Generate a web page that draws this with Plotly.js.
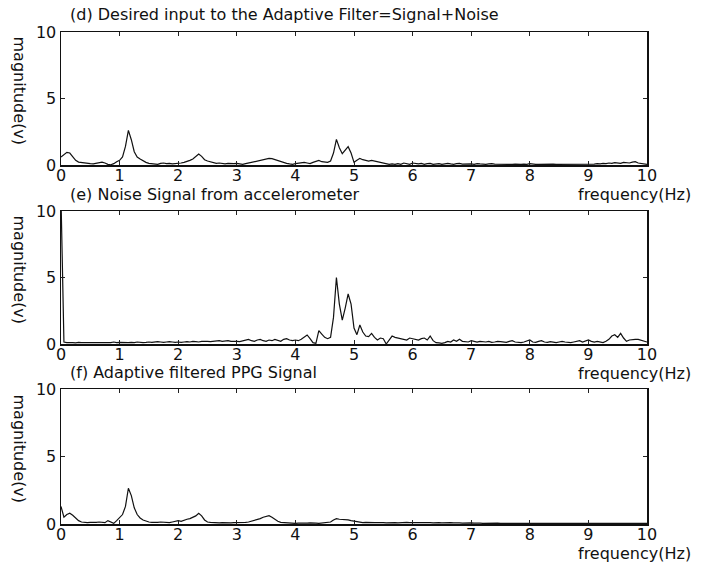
<!DOCTYPE html>
<html>
<head>
<meta charset="utf-8">
<script src="https://cdn.plot.ly/plotly-3.0.1.min.js"></script>
<style>html,body{margin:0;padding:0;background:#fff;}#chart{width:707px;height:564px;}</style>
</head>
<body>
<div id="chart"></div>
<script>
// Frequency axis: 0 to 10 Hz sampled every 0.05 Hz
const freqStart = 0;
const freqStep = 0.05;

const panelTitles = [
  "(d) Desired input to the Adaptive Filter=Signal+Noise",
  "(e) Noise Signal from accelerometer",
  "(f) Adaptive filtered PPG Signal"
];
const xTickVals = [0,1,2,3,4,5,6,7,8,9,10];
const yTickVals = [0,5,10];
const xLabel = "frequency(Hz)";
const yLabel = "magnitude(v)";

// (d) Desired input = Signal + Noise
const desiredInput = [
  0.6,0.8,0.95,0.9,0.6,0.35,0.22,0.18,0.15,0.12,0.1,0.08,0.12,0.2,0.22,0.15,0.05,0.02,0.1,0.25,
  0.35,0.6,1.4,2.6,1.9,1.0,0.6,0.45,0.3,0.2,0.12,0.08,0.05,0.05,0.12,0.15,0.1,0.12,0.08,0.1,
  0.1,0.15,0.2,0.25,0.35,0.45,0.65,0.83,0.65,0.4,0.3,0.25,0.15,0.12,0.15,0.1,0.08,0.12,0.1,0.1,
  0.12,0.08,0.05,0.1,0.15,0.18,0.2,0.25,0.32,0.4,0.45,0.5,0.48,0.4,0.3,0.22,0.2,0.12,0.08,0.05,
  0.1,0.15,0.2,0.2,0.15,0.1,0.2,0.3,0.35,0.25,0.2,0.2,0.3,0.9,1.93,1.3,0.85,1.1,1.38,0.9,
  0.2,0.35,0.5,0.4,0.35,0.3,0.35,0.3,0.25,0.2,0.12,0.1,0.05,0.08,0.05,0.1,0.05,0.15,0.1,0.05,
  0.15,0.1,0.08,0.12,0.05,0.1,0.12,0.05,0.08,0.1,0.05,0.1,0.12,0.08,0.05,0.1,0.12,0.06,0.08,0.1,
  0.08,0.05,0.1,0.08,0.06,0.05,0.08,0.1,0.06,0.05,0.05,0.08,0.06,0.05,0.04,0.06,0.08,0.05,0.06,0.05,
  0.1,0.06,0.05,0.05,0.06,0.05,0.04,0.05,0.06,0.05,0.05,0.04,0.05,0.06,0.05,0.05,0.04,0.05,0.06,0.05,
  0.08,0.05,0.06,0.1,0.08,0.12,0.1,0.15,0.12,0.18,0.15,0.12,0.2,0.18,0.15,0.22,0.25,0.15,0.1,0.08,
  0.05
];

// (e) Noise signal from accelerometer
const noiseSignal = [
  11,0.15,0.1,0.12,0.1,0.08,0.12,0.1,0.1,0.12,0.08,0.1,0.12,0.1,0.08,0.1,0.12,0.1,0.15,0.1,
  0.12,0.1,0.08,0.1,0.12,0.1,0.15,0.12,0.1,0.12,0.15,0.12,0.15,0.18,0.15,0.12,0.15,0.18,0.15,0.12,
  0.15,0.12,0.15,0.18,0.15,0.2,0.18,0.15,0.2,0.22,0.2,0.18,0.2,0.22,0.25,0.2,0.22,0.25,0.2,0.22,
  0.2,0.18,0.25,0.3,0.35,0.25,0.2,0.3,0.35,0.25,0.2,0.3,0.25,0.35,0.3,0.2,0.35,0.4,0.3,0.25,
  0.3,0.25,0.35,0.5,0.68,0.4,0.1,0.05,1.0,0.75,0.5,0.4,0.5,2.0,5.0,3.0,1.8,2.7,3.76,3.0,
  1.2,0.7,1.43,0.9,0.6,0.55,0.8,0.5,0.3,0.45,0.4,0.0,0.3,0.6,0.5,0.45,0.4,0.35,0.3,0.45,
  0.4,0.35,0.3,0.4,0.45,0.3,0.6,0.25,0.1,0.08,0.05,0.1,0.2,0.15,0.3,0.2,0.35,0.2,0.2,0.15,
  0.25,0.2,0.15,0.2,0.18,0.15,0.2,0.12,0.15,0.2,0.18,0.15,0.12,0.2,0.25,0.15,0.12,0.1,0.15,0.2,
  0.3,0.15,0.12,0.2,0.25,0.15,0.12,0.18,0.15,0.1,0.15,0.2,0.15,0.12,0.1,0.15,0.2,0.25,0.15,0.2,
  0.3,0.2,0.15,0.2,0.12,0.1,0.2,0.35,0.6,0.7,0.5,0.8,0.45,0.2,0.3,0.35,0.35,0.35,0.3,0.2,
  0.15
];

// (f) Adaptive filtered PPG signal
const filteredPPG = [
  1.3,0.5,0.7,0.8,0.65,0.45,0.25,0.15,0.12,0.1,0.12,0.1,0.12,0.15,0.12,0.1,0.25,0.15,0.05,0.25,
  0.45,0.7,1.3,2.65,2.1,1.2,0.7,0.45,0.3,0.2,0.15,0.12,0.1,0.12,0.15,0.12,0.1,0.1,0.15,0.2,
  0.25,0.2,0.3,0.35,0.4,0.5,0.6,0.8,0.6,0.3,0.15,0.12,0.1,0.1,0.08,0.1,0.08,0.1,0.08,0.1,
  0.1,0.1,0.08,0.12,0.15,0.2,0.25,0.3,0.4,0.5,0.55,0.62,0.5,0.35,0.2,0.12,0.1,0.08,0.06,0.05,
  0.05,0.06,0.05,0.05,0.06,0.08,0.05,0.06,0.05,0.08,0.1,0.12,0.15,0.3,0.4,0.35,0.35,0.3,0.3,0.25,
  0.2,0.15,0.12,0.1,0.12,0.1,0.08,0.1,0.1,0.12,0.1,0.08,0.1,0.12,0.1,0.08,0.1,0.1,0.12,0.1,
  0.1,0.12,0.15,0.12,0.1,0.12,0.1,0.08,0.1,0.1,0.08,0.1,0.08,0.1,0.08,0.1,0.08,0.06,0.08,0.08,
  0.08,0.06,0.08,0.06,0.05,0.06,0.08,0.06,0.05,0.06,0.05,0.06,0.05,0.05,0.06,0.05,0.04,0.05,0.06,0.05,
  0.05,0.04,0.05,0.05,0.04,0.05,0.05,0.04,0.05,0.04,0.05,0.05,0.04,0.05,0.05,0.04,0.05,0.05,0.04,0.05,
  0.05,0.04,0.05,0.05,0.04,0.05,0.05,0.04,0.05,0.05,0.04,0.05,0.05,0.04,0.05,0.05,0.04,0.05,0.05,0.04,
  0.05
];

const W = 707, H = 564;
const FONT = "'DejaVu Sans', Verdana, sans-serif";
const px = v => v / W;
const py = v => 1 - v / H;

// plot area pixel boxes [top, bottom]
const boxes = [[32,165],[211,344],[389,524]];
const xDom = [px(61), px(647)];
const series = [desiredInput, noiseSignal, filteredPPG];

const traces = series.map((s, i) => ({
  type: 'scatter', mode: 'lines',
  x0: freqStart, dx: freqStep, y: s,
  xaxis: i === 0 ? 'x' : 'x' + (i + 1),
  yaxis: i === 0 ? 'y' : 'y' + (i + 1),
  line: {color: '#111', width: 1.2},
  showlegend: false, hoverinfo: 'skip'
}));

const layout = {
  width: W, height: H,
  margin: {l: 0, r: 0, t: 0, b: 0},
  paper_bgcolor: '#fff', plot_bgcolor: '#fff',
  font: {family: FONT, color: '#111'},
  showlegend: false,
  annotations: []
};

boxes.forEach((b, i) => {
  const sx = i === 0 ? '' : String(i + 1);
  layout['xaxis' + sx] = {
    domain: xDom, range: [0, 10], anchor: 'y' + sx,
    tickmode: 'array', tickvals: xTickVals, ticktext: xTickVals.map(String),
    ticks: 'inside', ticklen: 4, tickwidth: 1, tickcolor: '#222',
    ticklabelstandoff: -5,
    showline: true, linecolor: '#111', linewidth: 1.5, mirror: 'ticks',
    showgrid: false, zeroline: false,
    tickfont: {size: 16, family: FONT, color: '#111'}
  };
  layout['yaxis' + sx] = {
    domain: [py(b[1]), py(b[0])], range: [0, 10], anchor: 'x' + sx,
    tickmode: 'array', tickvals: yTickVals, ticktext: yTickVals.map(String),
    ticks: 'inside', ticklen: 4, tickwidth: 1, tickcolor: '#222',
    showline: true, linecolor: '#111', linewidth: 1.5, mirror: 'ticks',
    showgrid: false, zeroline: false,
    tickfont: {size: 16, family: FONT, color: '#111'}
  };
  // panel title
  layout.annotations.push({
    text: panelTitles[i], xref: 'paper', yref: 'paper',
    x: px(68), y: py(b[0] - 17), xanchor: 'left', yanchor: 'middle',
    showarrow: false, font: {size: 16, family: FONT, color: '#111'}
  });
  // x label
  layout.annotations.push({
    text: xLabel, xref: 'paper', yref: 'paper',
    x: px(693), y: py(b[1] + 29), xanchor: 'right', yanchor: 'middle',
    showarrow: false, font: {size: 16, family: FONT, color: '#111'}
  });
  // y label (reads top to bottom)
  layout.annotations.push({
    text: yLabel, xref: 'paper', yref: 'paper', textangle: 90,
    x: px(19), y: py((b[0] + b[1]) / 2 - 8), xanchor: 'center', yanchor: 'middle',
    showarrow: false, font: {size: 16, family: FONT, color: '#111'}
  });
});

Plotly.newPlot('chart', traces, layout, {staticPlot: true, displayModeBar: false});
</script>
</body>
</html>
